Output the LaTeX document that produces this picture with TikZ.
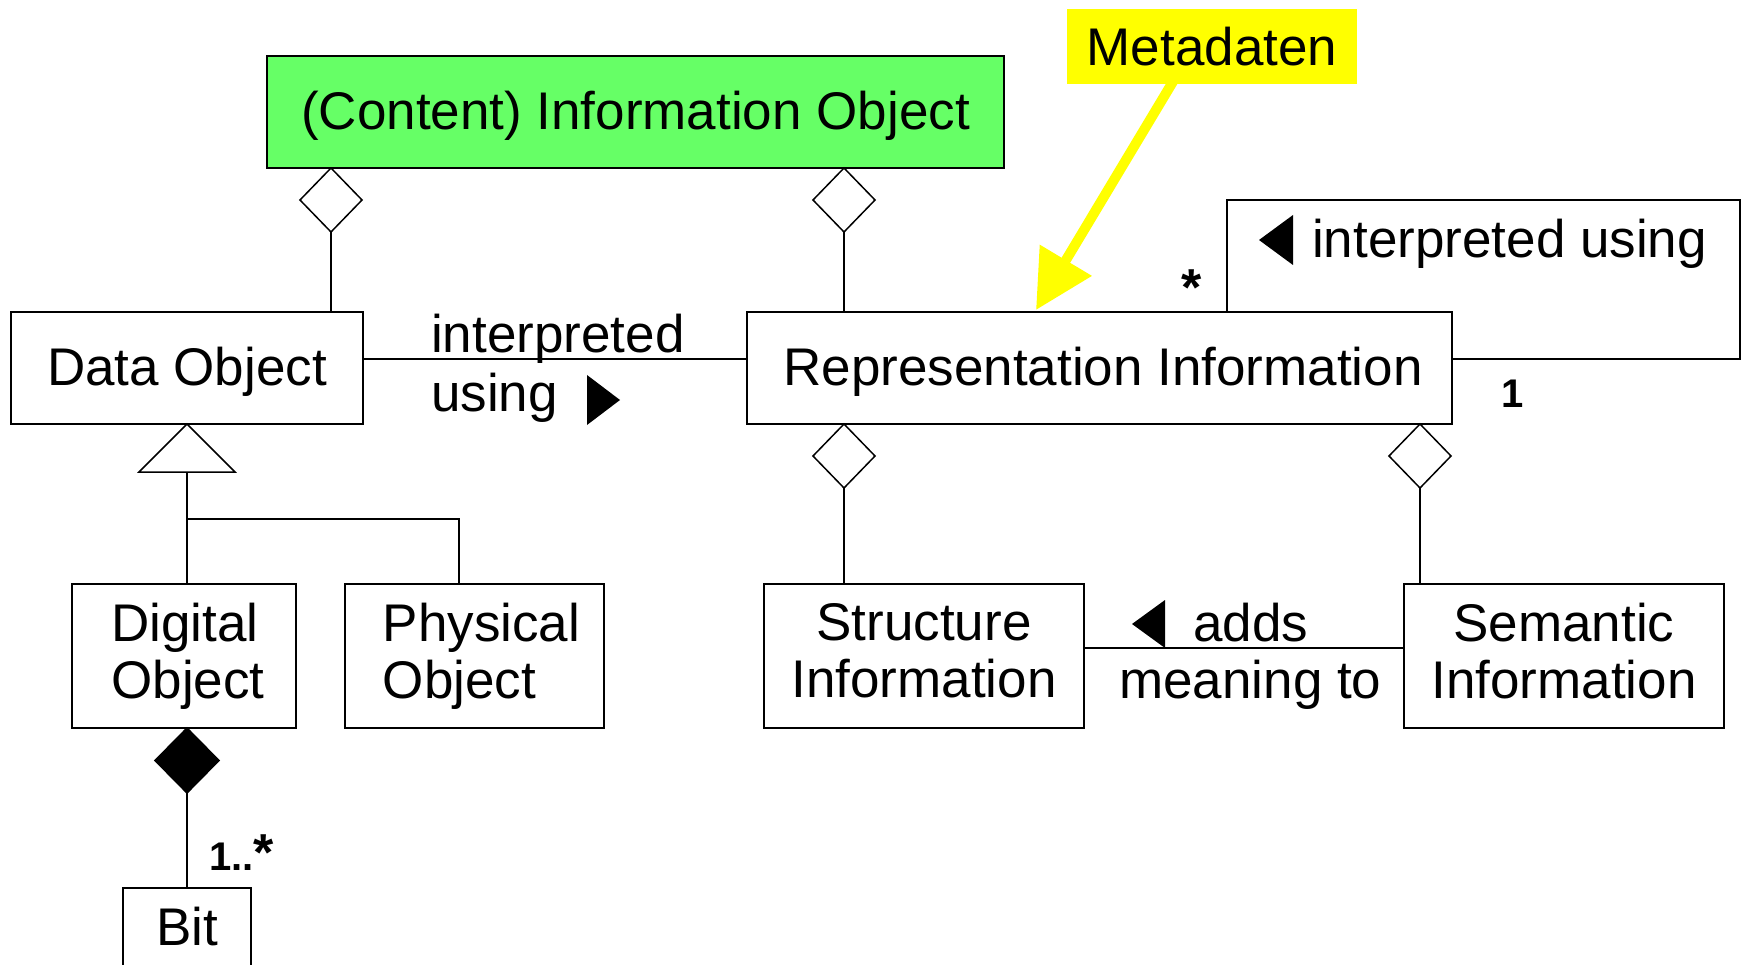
\documentclass[tikz,border=0pt]{standalone}
\usepackage{fontspec}
\setmainfont{Liberation Sans}
\usetikzlibrary{shapes.geometric,arrows.meta,calc}
\definecolor{cgreen}{HTML}{66FF66}
\definecolor{cyellow}{HTML}{FFFF00}
\newcommand\bigtext{\fontsize{53}{57}\selectfont}
\newcommand\multtext{\fontsize{40}{44}\selectfont\bfseries}
\newcommand\manystar{\scalebox{1.3}{*}}
\begin{document}
\begin{tikzpicture}[x=1pt,y=-1pt,
  box/.style={draw, line width=2pt, inner sep=0pt, outer sep=0pt, font=\bigtext},
  oneline/.style={text height=47pt, text depth=11pt},
  conn/.style={draw, line width=1.5pt},
  hdia/.style={diamond, draw, fill=white, line width=1.5pt, inner sep=0pt, outer sep=0pt,
    minimum width=62pt, minimum height=64pt, anchor=north},
  lab/.style={inner sep=0pt, font=\bigtext, anchor=base west},
  mult/.style={inner sep=0pt, font=\multtext, anchor=base west},
  marker/.style={fill=black}]
\clip (0,0) rectangle (1743,965);

% classes
\node[box, oneline, fill=cgreen, minimum width=737, minimum height=112] (cio) at (635.5,112) {(Content) Information Object};
\node[fill=cyellow, inner sep=0pt, minimum width=290, minimum height=75, font=\bigtext] (meta) at (1212,46.5) {Metadaten};
\node[box, oneline, minimum width=352, minimum height=112] (do) at (187,368) {Data Object};
\node[box, oneline, minimum width=705, minimum height=112] (ri) at (1099.5,368) {\hspace*{7pt}Representation Information};
\node[box, minimum width=224, minimum height=144, align=left] (dig) at (184,656) {\hspace*{8pt}Digital\\\hspace*{8pt}Object};
\node[box, minimum width=259, minimum height=144, align=left] (phys) at (474.5,656) {\hspace*{14pt}Physical\\\hspace*{14pt}Object};
\node[box, minimum width=320, minimum height=144, align=center, text depth=11pt] (str) at (924,656) {Structure\\Information};
\node[box, minimum width=320, minimum height=144, align=center, text depth=11pt] (sem) at (1564,656) {Semantic\\Information};
\node[box, anchor=north, minimum width=128, text height=57pt, text depth=63pt] (bit) at (187,888) {Bit};

% x positions of the vertical connectors
\coordinate (x1) at (331,0);
\coordinate (x2) at (844,0);
\coordinate (x3) at (844,0);
\coordinate (x4) at (1420,0);
\coordinate (x5) at (1227,0);

% aggregations of the information object
\node[hdia] (d1) at (cio.south -| x1) {};
\draw[conn] (d1.south) -- (d1.south |- do.north);
\node[hdia] (d2) at (cio.south -| x2) {};
\draw[conn] (d2.south) -- (d2.south |- ri.north);

% aggregations of representation information
\node[hdia] (d3) at (ri.south -| x3) {};
\draw[conn] (d3.south) -- (d3.south |- str.north);
\node[hdia] (d4) at (ri.south -| x4) {};
\draw[conn] (d4.south) -- (d4.south |- sem.north);

% composition of bits
\node[hdia, fill=black, minimum width=64pt, minimum height=65pt] (d5) at (dig.south -| do.south) {};
\draw[conn] (d5.south) -- (bit.north);
\node[mult] (m3) at (209,870) {1..\manystar};

% generalization of data objects
\draw[conn, fill=white] (do.south) -- ++(-48,48) -- ++(96,0) -- cycle;
\coordinate (gb) at ($(do.south)+(0,48)$);
\draw[conn] (gb) -- (gb |- dig.north);
\coordinate (pb) at (459,519);
\draw[conn] (gb |- pb) -- (pb) -- (pb |- phys.north);

% data object interpreted using representation information
\coordinate (ly) at (0,359);
\draw[conn] (do.east |- ly) -- (ri.west |- ly);
\node[lab] (t1) at (431,353) {interpreted};
\node[lab] (t2) at (431,411) {using};
\fill[marker] (587,375) -- (587,425) -- (620,400) -- cycle;

% representation information interpreted using itself
\coordinate (sl) at (1740,200);
\draw[conn] (ri.north -| x5) |- (sl) |- (ri.east |- ly);
\node[lab] (t3) at (1312,258) {interpreted using};
\fill[marker] (1293,215) -- (1293,265) -- (1259,240) -- cycle;
\node[mult, anchor=base] (m1) at (1192,306) {\manystar};
\node[mult, anchor=base] (m2) at (1513,407) {1};

% semantic information adds meaning to structure information
\coordinate (ay) at (0,648);
\draw[conn] (str.east |- ay) -- (sem.west |- ay);
\node[lab] (t4) at (1193,641) {adds};
\node[lab] (t5) at (1119,698) {meaning to};
\fill[marker] (1165,600) -- (1165,648) -- (1132,624) -- cycle;

% metadata pointer
\coordinate (mt) at (1036,310);
\draw[cyellow, line width=10pt, -{Triangle[length=58pt,width=58pt]}] ([xshift=-37pt,yshift=6pt]meta.south) -- (mt);
\end{tikzpicture}
\end{document}
